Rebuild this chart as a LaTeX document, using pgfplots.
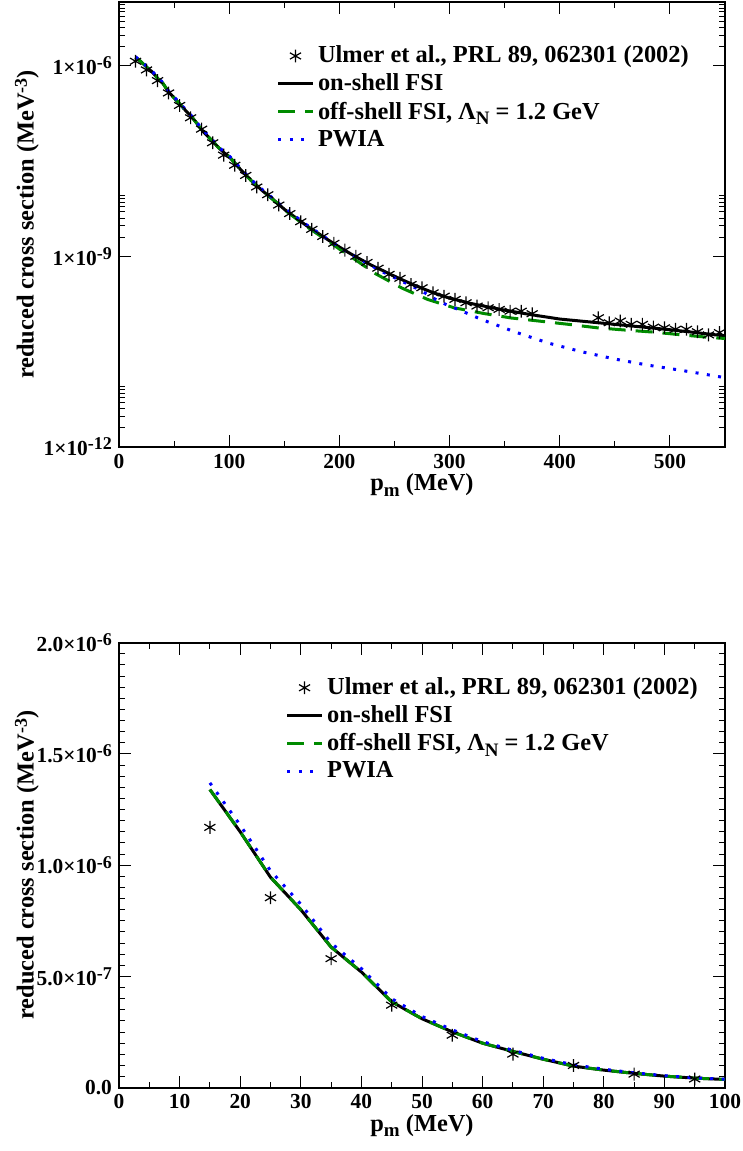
\documentclass[border=0pt]{standalone}
\usepackage{fontspec}
\setmainfont{Liberation Serif}
\usepackage{pgfplots}
\pgfplotsset{compat=1.18}
\usepackage{pgfplotstable}

\definecolor{ggreen}{RGB}{0,139,0}
\definecolor{gblue}{RGB}{0,0,255}

\pgfplotstableread{
x y
15 1.17e-6
25 8.54e-7
35 5.80e-7
45 3.71e-7
55 2.36e-7
65 1.51e-7
75 1.00e-7
85 6.1e-8
95 3.9e-8
105 2.7e-8
115 1.87e-8
125 1.23e-8
135 9.3e-9
145 6.4e-9
155 4.7e-9
165 3.5e-9
175 2.65e-9
185 2.05e-9
195 1.6e-9
205 1.25e-9
215 1.0e-9
225 8.0e-10
235 6.5e-10
245 5.2e-10
255 4.5e-10
265 3.6e-10
275 3.2e-10
285 2.66e-10
295 2.36e-10
305 2.1e-10
315 1.86e-10
325 1.65e-10
335 1.55e-10
345 1.46e-10
355 1.37e-10
365 1.37e-10
375 1.25e-10
435 1.08e-10
445 9.0e-11
455 9.6e-11
465 8.5e-11
475 8.5e-11
485 7.7e-11
495 7.5e-11
505 7.1e-11
515 7.1e-11
525 6.5e-11
535 5.8e-11
545 6.3e-11
}\datatab

\pgfplotstableread{
x y
15 1.34e-6
20 1.15e-6
25 9.46e-7
30 8.0e-7
35 6.32e-7
40 5.2e-7
45 3.86e-7
50 3.1e-7
55 2.51e-7
60 2.0e-7
65 1.63e-7
70 1.28e-7
75 9.7e-8
80 7.9e-8
85 6.45e-8
90 5.2e-8
95 4.3e-8
100 3.7e-8
110 2.35e-8
120 1.55e-8
130 1.08e-8
140 7.8e-9
150 5.5e-9
160 4.1e-9
170 3.05e-9
180 2.35e-9
190 1.8e-9
200 1.4e-9
210 1.1e-9
220 8.8e-10
230 7.1e-10
240 5.9e-10
250 4.85e-10
260 4.05e-10
270 3.4e-10
280 2.9e-10
290 2.5e-10
300 2.2e-10
320 1.8e-10
350 1.42e-10
375 1.2e-10
400 1.03e-10
450 8.5e-11
500 7.0e-11
550 5.6e-11
}\ontab

\pgfplotstableread{
x y
15 1.34e-6
20 1.15e-6
25 9.46e-7
30 8.0e-7
35 6.32e-7
40 5.2e-7
45 3.86e-7
50 3.1e-7
55 2.51e-7
60 2.0e-7
65 1.63e-7
70 1.28e-7
75 9.7e-8
80 7.9e-8
85 6.45e-8
90 5.2e-8
95 4.3e-8
100 3.7e-8
110 2.35e-8
120 1.55e-8
130 1.08e-8
140 7.7e-9
150 5.4e-9
160 4.0e-9
170 2.95e-9
180 2.25e-9
190 1.72e-9
200 1.3e-9
213 9.2e-10
233 5.3e-10
257 3.15e-10
280 2.1e-10
304 1.55e-10
331 1.26e-10
356 1.07e-10
383 9.5e-11
408 8.5e-11
434 7.5e-11
460 6.9e-11
486 6.4e-11
511 5.8e-11
538 5.25e-11
550 5.1e-11
}\offtab

\pgfplotstableread{
x y
15 1.37e-6
20 1.18e-6
25 9.75e-7
30 8.25e-7
35 6.5e-7
40 5.35e-7
45 4.0e-7
50 3.2e-7
55 2.6e-7
60 2.07e-7
65 1.68e-7
70 1.32e-7
75 1.03e-7
80 8.3e-8
85 6.7e-8
90 5.4e-8
95 4.45e-8
100 3.8e-8
110 2.45e-8
120 1.6e-8
130 1.12e-8
140 8.1e-9
150 5.7e-9
160 4.25e-9
170 3.15e-9
180 2.4e-9
190 1.83e-9
200 1.4e-9
220 8.7e-10
240 5.6e-10
255 4.2e-10
274 2.9e-10
290 1.97e-10
300 1.65e-10
310 1.41e-10
320 1.18e-10
330 1.0e-10
360 6.4e-11
390 4.3e-11
420 3.15e-11
450 2.42e-11
480 1.94e-11
510 1.61e-11
540 1.32e-11
550 1.23e-11
}\pwiatab

\newcommand{\gfont}{\bfseries\fontsize{12.2}{14}\selectfont}
\newcommand{\tfont}{\bfseries\fontsize{10.7}{12}\selectfont}
\newcommand{\sps}[1]{\raisebox{0.6ex}{\fontsize{9}{10}\selectfont #1}}
\newcommand{\sbs}[1]{\raisebox{-0.5ex}{\fontsize{9.5}{10}\selectfont #1}}

\pgfplotsset{
  gstyle/.style={
    scale only axis, width=303pt, height=222.5pt,
    axis line style={line width=1pt},
    every tick/.style={black, line width=0.5pt},
    major tick length=6pt, minor tick length=3pt,
    tick label style={font=\tfont},
    label style={font=\gfont},
    /pgf/number format/assume math mode=true,
    xlabel={p\sbs{m} (MeV)},
    ylabel={reduced cross section (MeV\sps{-3})},
    xlabel style={at={(axis description cs:0.5,-0.098)}, anchor=base},
    ylabel style={at={(axis description cs:-0.152,0.5)}, anchor=center},
    legend cell align=left,
    legend style={draw=none, fill=none, font=\gfont, row sep=0pt},
  },
  datast/.style={only marks, mark=asterisk, mark size=3.2pt, black, line width=0.6pt},
  onst/.style={black, line width=1.5pt, no marks},
  offst/.style={ggreen, line width=1.5pt, no marks, dash pattern=on 8.5pt off 5pt},
  pwst/.style={gblue, line width=1.5pt, no marks, dash pattern=on 1.5pt off 4.2pt},
}

\begin{document}
\begin{tikzpicture}
\useasboundingbox (0,0) rectangle (371.5pt,575.5pt);

\begin{axis}[gstyle,
  at={(59.5pt,352pt)}, anchor=south west,
  xmin=0, xmax=550, ymode=log, ymin=1e-12, ymax=1e-5,
  xtick={0,100,200,300,400,500},
  minor xtick={50,150,250,350,450},
  ytick={1e-12,1e-9,1e-6},
  yticklabels={1×10\sps{-12},1×10\sps{-9},1×10\sps{-6}},
  minor ytick={2e-12,3e-12,4e-12,5e-12,6e-12,7e-12,8e-12,9e-12,
               2e-9,3e-9,4e-9,5e-9,6e-9,7e-9,8e-9,9e-9,
               2e-6,3e-6,4e-6,5e-6,6e-6,7e-6,8e-6,9e-6},
  legend style={at={(0.25,0.92)}, anchor=north west},
]
\addplot[datast] table {\datatab};
\addlegendentry{Ulmer et al., PRL 89, 062301 (2002)}
\addplot[onst] table {\ontab};
\addlegendentry{on-shell FSI}
\addplot[offst] table {\offtab};
\addlegendentry{off-shell FSI, Λ\sbs{N} = 1.2 GeV}
\addplot[pwst] table {\pwiatab};
\addlegendentry{PWIA}
\end{axis}

\begin{axis}[gstyle,
  at={(59.5pt,31.65pt)}, anchor=south west,
  xmin=0, xmax=100, ymin=0, ymax=2e-6,
  xtick={0,10,...,100}, minor x tick num=1,
  ytick={0,5e-7,1e-6,1.5e-6,2e-6}, minor y tick num=9,
  scaled y ticks=false,
  yticklabels={0.0,5.0×10\sps{-7},1.0×10\sps{-6},1.5×10\sps{-6},2.0×10\sps{-6}},
  legend style={at={(0.265,0.94)}, anchor=north west},
]
\addplot[datast, restrict x to domain=0:100] table {\datatab};
\addlegendentry{Ulmer et al., PRL 89, 062301 (2002)}
\addplot[onst, restrict x to domain=0:100] table {\ontab};
\addlegendentry{on-shell FSI}
\addplot[offst, restrict x to domain=0:100] table {\offtab};
\addlegendentry{off-shell FSI, Λ\sbs{N} = 1.2 GeV}
\addplot[pwst, restrict x to domain=0:100] table {\pwiatab};
\addlegendentry{PWIA}
\end{axis}
\end{tikzpicture}
\end{document}
